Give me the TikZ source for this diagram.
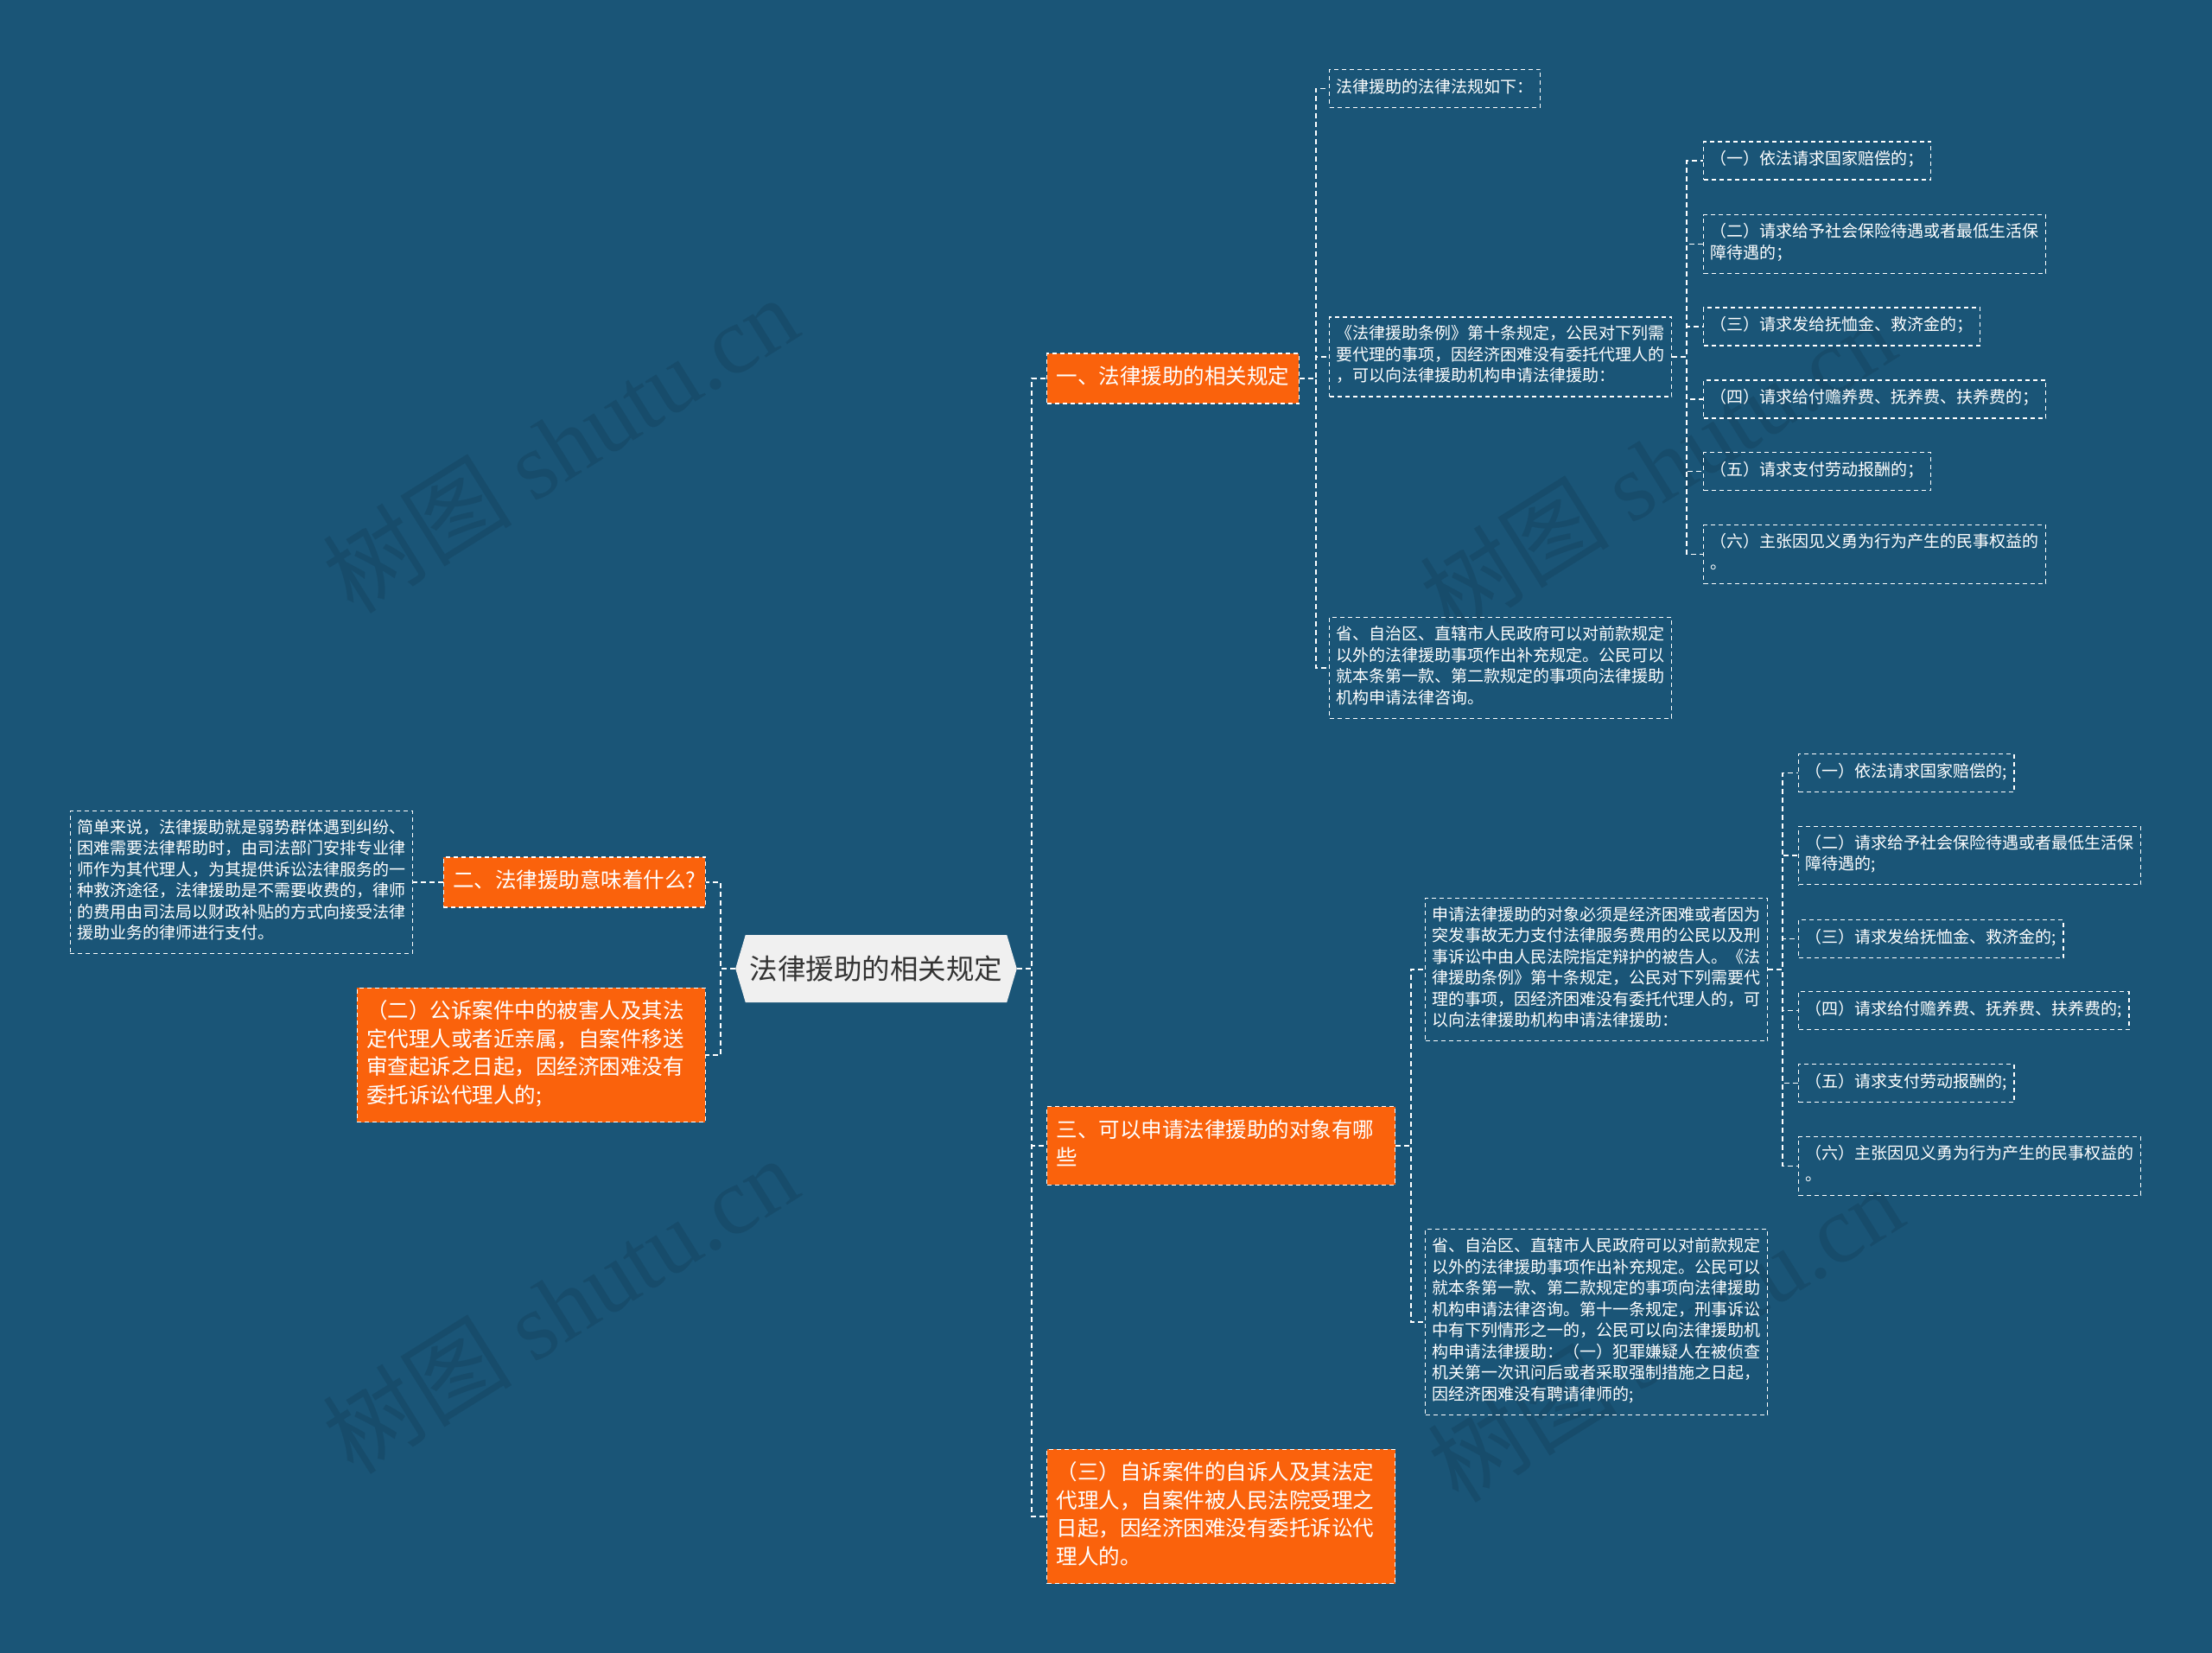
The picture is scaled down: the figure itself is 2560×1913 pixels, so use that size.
\documentclass[tikz,border=0pt]{standalone}
\usepackage{fontspec}
\setmainfont{Noto Sans CJK SC}
\newfontfamily\wmlatin{Liberation Serif}
\usetikzlibrary{shapes.symbols}
\definecolor{bgblue}{HTML}{1A5577}
\definecolor{topicorange}{HTML}{FA620C}
\definecolor{rootgray}{HTML}{F0F0F0}
\definecolor{rootink}{HTML}{333333}
\newcommand{\lawleaf}{\fontsize{19}{24.5}\selectfont}
\newcommand{\lawtopic}{\fontsize{24.5}{32.5}\selectfont}
\newcommand{\lawroot}{\fontsize{32.5}{40}\selectfont}

\begin{document}
\begin{tikzpicture}[x=1pt,y=-1pt,
  leaf/.style={draw=white,line width=1.2pt,dash pattern=on 5pt off 4pt,text=white,
    font=\lawleaf,align=left,inner xsep=8pt,inner ysep=9.75pt,
    execute at begin node=\strut,execute at end node=\strut},
  topic/.style={leaf,fill=topicorange,font=\lawtopic,inner xsep=11pt,inner ysep=12.75pt},
  widetopic/.style={topic,text width=381pt},
  rootbox/.style={signal,signal to=west and east,signal pointer angle=147,fill=rootgray,
    text=rootink,font=\lawroot,minimum height=78pt,inner xsep=5pt},
  conn/.style={white,line width=1.6pt,dash pattern=on 6pt off 4pt},
  wmark/.style={rotate=32,text=bgblue!90!black,font=\fontsize{110}{120}\selectfont}]
\fill[bgblue] (0,0) rectangle (2560,1913);

% watermarks
\foreach \wx/\wy [count=\i] in {648/514,1918/539,648/1510,1927/1543}
  \node[wmark] (wm\i) at (\wx,\wy) {树图 {\wmlatin shutu.cn}};

% centre
\node[rootbox] (root) at (1014,1121) {法律援助的相关规定};

% left side
\node[topic,anchor=east] (lq) at (817,1021) {二、法律援助意味着什么?};
\node[leaf,anchor=east] (lsimple) at (478,1021) {简单来说，法律援助就是弱势群体遇到纠纷、\\困难需要法律帮助时，由司法部门安排专业律\\师作为其代理人，为其提供诉讼法律服务的一\\种救济途径，法律援助是不需要收费的，律师\\的费用由司法局以财政补贴的方式向接受法律\\援助业务的律师进行支付。};
\node[widetopic,anchor=east] (lcase2) at (817,1221) {（二）公诉案件中的被害人及其法\\定代理人或者近亲属，自案件移送\\审查起诉之日起，因经济困难没有\\委托诉讼代理人的;};

% right side, first branch
\node[topic,anchor=west] (r1) at (1211,438) {一、法律援助的相关规定};
\node[leaf,anchor=west] (r1a) at (1538,102.5) {法律援助的法律法规如下：};
\node[leaf,anchor=west] (r1b) at (1538,413) {《法律援助条例》第十条规定，公民对下列需\\要代理的事项，因经济困难没有委托代理人的\\，可以向法律援助机构申请法律援助：};
\node[leaf,anchor=west] (r1c) at (1538,773) {省、自治区、直辖市人民政府可以对前款规定\\以外的法律援助事项作出补充规定。公民可以\\就本条第一款、第二款规定的事项向法律援助\\机构申请法律咨询。};
\node[leaf,anchor=west] (r1b1) at (1971,186) {（一）依法请求国家赔偿的；};
\node[leaf,anchor=west] (r1b2) at (1971,282.5) {（二）请求给予社会保险待遇或者最低生活保\\障待遇的；};
\node[leaf,anchor=west] (r1b3) at (1971,378) {（三）请求发给抚恤金、救济金的；};
\node[leaf,anchor=west] (r1b4) at (1971,462) {（四）请求给付赡养费、抚养费、扶养费的；};
\node[leaf,anchor=west] (r1b5) at (1971,545.5) {（五）请求支付劳动报酬的；};
\node[leaf,anchor=west] (r1b6) at (1971,641.5) {（六）主张因见义勇为行为产生的民事权益的\\。};

% right side, second branch
\node[widetopic,anchor=west] (r2) at (1211,1326) {三、可以申请法律援助的对象有哪\\些};
\node[leaf,anchor=west] (r2a) at (1649,1122) {申请法律援助的对象必须是经济困难或者因为\\突发事故无力支付法律服务费用的公民以及刑\\事诉讼中由人民法院指定辩护的被告人。《法\\律援助条例》第十条规定，公民对下列需要代\\理的事项，因经济困难没有委托代理人的，可\\以向法律援助机构申请法律援助：};
\node[leaf,anchor=west] (r2b) at (1649,1530) {省、自治区、直辖市人民政府可以对前款规定\\以外的法律援助事项作出补充规定。公民可以\\就本条第一款、第二款规定的事项向法律援助\\机构申请法律咨询。第十一条规定，刑事诉讼\\中有下列情形之一的，公民可以向法律援助机\\构申请法律援助：（一）犯罪嫌疑人在被侦查\\机关第一次讯问后或者采取强制措施之日起，\\因经济困难没有聘请律师的;};
\node[leaf,anchor=west] (r2a1) at (2081,894.5) {（一）依法请求国家赔偿的;};
\node[leaf,anchor=west] (r2a2) at (2081,990) {（二）请求给予社会保险待遇或者最低生活保\\障待遇的;};
\node[leaf,anchor=west] (r2a3) at (2081,1086.5) {（三）请求发给抚恤金、救济金的;};
\node[leaf,anchor=west] (r2a4) at (2081,1169.5) {（四）请求给付赡养费、抚养费、扶养费的;};
\node[leaf,anchor=west] (r2a5) at (2081,1253.5) {（五）请求支付劳动报酬的;};
\node[leaf,anchor=west] (r2a6) at (2081,1349.5) {（六）主张因见义勇为行为产生的民事权益的\\。};

% right side, third branch
\node[widetopic,anchor=west] (r3) at (1211,1755) {（三）自诉案件的自诉人及其法定\\代理人，自案件被人民法院受理之\\日起，因经济困难没有委托诉讼代\\理人的。};

% connectors
\foreach \c in {r1,r2,r3}
  \draw[conn] (root.east) -- ++(17,0) |- (\c.west);
\foreach \c in {lq,lcase2}
  \draw[conn] (root.west) -- ++(-17,0) |- (\c.east);
\draw[conn] (lq.west) -- (lsimple.east);
\foreach \c in {r1a,r1b,r1c}
  \draw[conn] (r1.east) -- ++(19,0) |- (\c.west);
\foreach \c in {r2a,r2b}
  \draw[conn] (r2.east) -- ++(18,0) |- (\c.west);
\foreach \i in {1,...,6} {
  \draw[conn] (r1b.east) -- ++(17,0) |- (r1b\i.west);
  \draw[conn] (r2a.east) -- ++(17,0) |- (r2a\i.west);
}
\end{tikzpicture}
\end{document}
